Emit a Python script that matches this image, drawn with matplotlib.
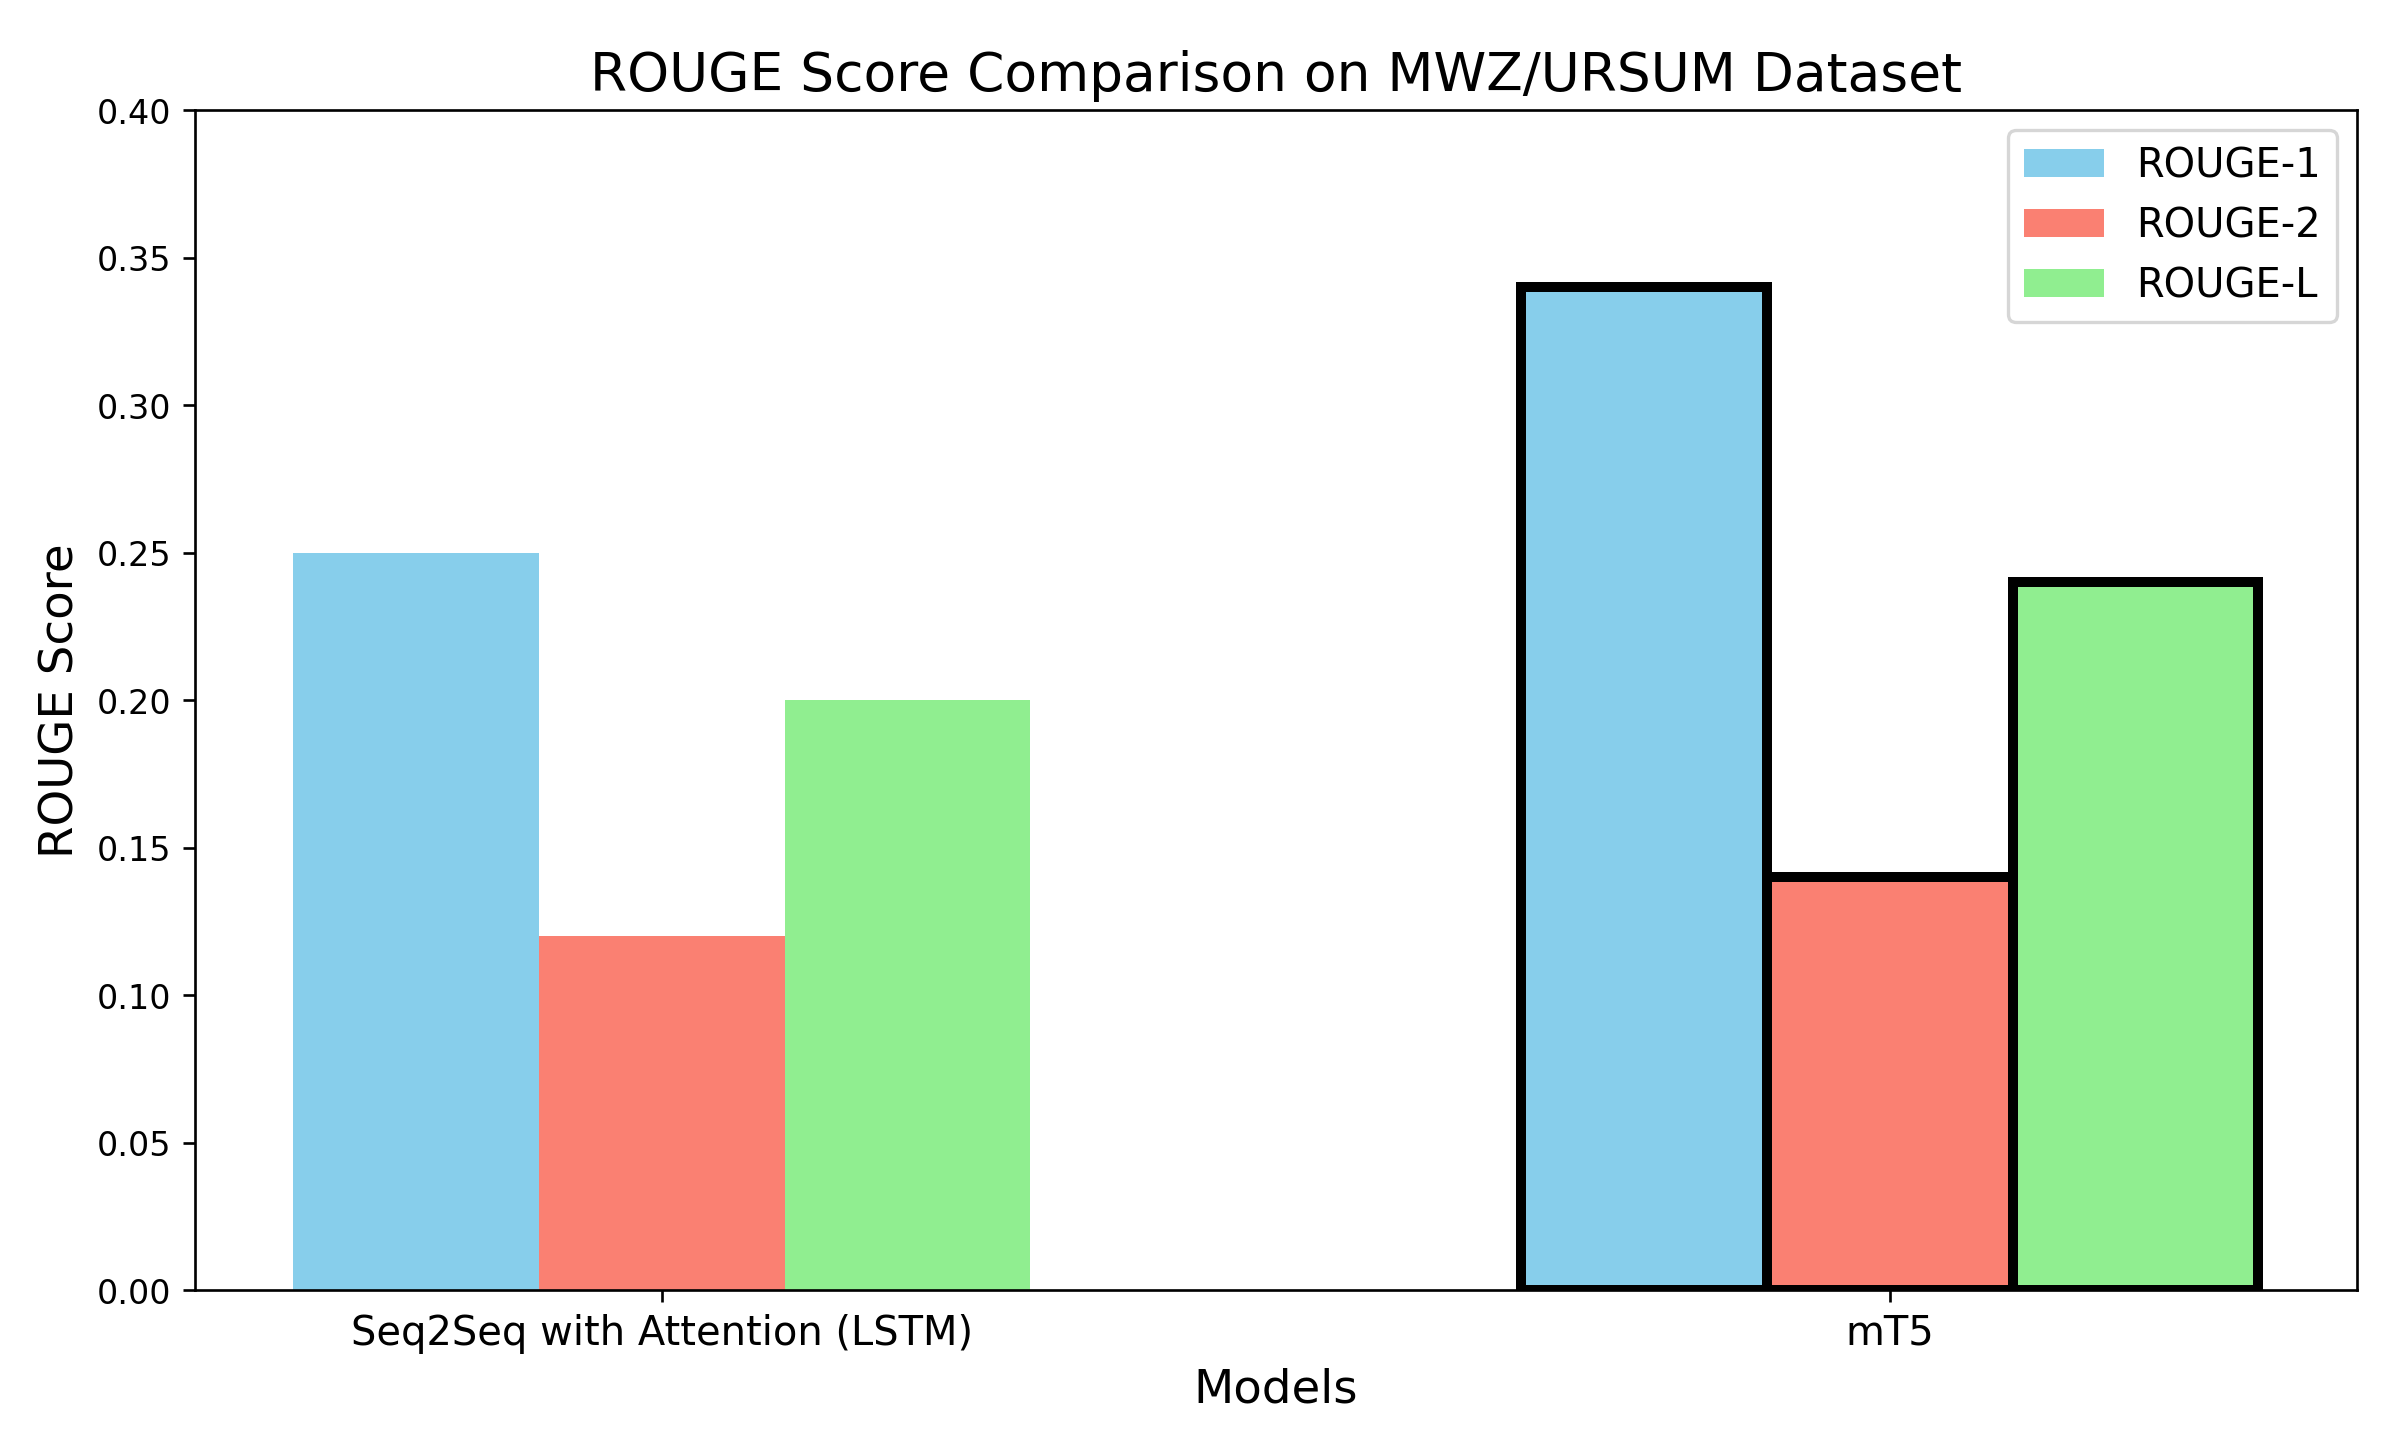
import numpy as np
import matplotlib.pyplot as plt

models = ["Seq2Seq with Attention (LSTM)", "mT5"]
rouge_1 = [0.25, 0.34]
rouge_2 = [0.12, 0.14]
rouge_l = [0.20, 0.24]

x = np.arange(len(models))
width = 0.2

# mT5 bars get a thick black outline
edges = ["none", "black"]
lws = [0, 3]

fig, ax = plt.subplots(figsize=(10.03, 6.03), dpi=240)
ax.bar(x - width, rouge_1, width, label="ROUGE-1", color="skyblue", edgecolor=edges, linewidth=lws)
ax.bar(x, rouge_2, width, label="ROUGE-2", color="salmon", edgecolor=edges, linewidth=lws)
ax.bar(x + width, rouge_l, width, label="ROUGE-L", color="lightgreen", edgecolor=edges, linewidth=lws)

ax.set_xlabel("Models", fontsize=14)
ax.set_ylabel("ROUGE Score", fontsize=14)
ax.set_title("ROUGE Score Comparison on MWZ/URSUM Dataset", fontsize=16)
ax.set_xticks(x)
ax.set_xticklabels(models, fontsize=12)
ax.set_ylim(0, 0.4)
ax.legend(fontsize=12, loc="upper right")

plt.subplots_adjust(left=0.081, right=0.979, top=0.9236, bottom=0.1082)
plt.savefig("out.png")
